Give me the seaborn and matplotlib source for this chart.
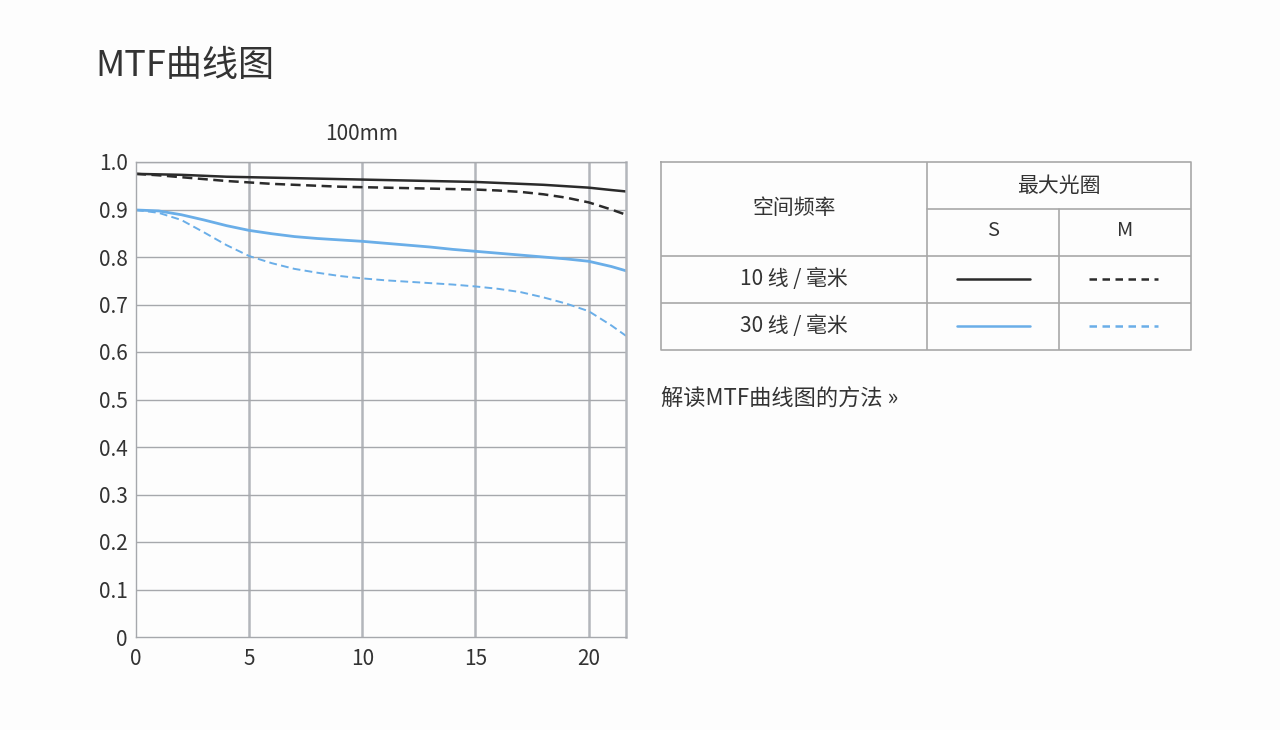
import numpy as np
import pandas as pd
import matplotlib.pyplot as plt
import seaborn as sns

sns.set_theme(style='white')
plt.rcParams['font.family'] = ['Noto Sans CJK SC', 'DejaVu Sans']
plt.rcParams['axes.unicode_minus'] = False

# 数据：距画面中心的距离(mm) 与 MTF 值
dist = [0, 1, 2, 3, 4, 5, 6, 7, 8, 9, 10, 11, 12, 13, 14, 15, 16, 17, 18, 19, 20, 21, 21.65]
s10 = [0.975, 0.974, 0.973, 0.971, 0.969, 0.968, 0.967, 0.966, 0.965, 0.964, 0.963, 0.962, 0.961,
       0.960, 0.959, 0.958, 0.956, 0.954, 0.952, 0.949, 0.946, 0.941, 0.938]
m10 = [0.975, 0.972, 0.968, 0.964, 0.960, 0.957, 0.954, 0.952, 0.950, 0.948, 0.947, 0.946, 0.945,
       0.944, 0.943, 0.942, 0.940, 0.937, 0.932, 0.925, 0.915, 0.900, 0.889]
s30 = [0.899, 0.897, 0.889, 0.878, 0.866, 0.856, 0.849, 0.843, 0.839, 0.836, 0.833, 0.829, 0.825,
       0.821, 0.816, 0.812, 0.808, 0.804, 0.800, 0.796, 0.791, 0.780, 0.771]
m30 = [0.899, 0.893, 0.878, 0.852, 0.825, 0.802, 0.787, 0.775, 0.767, 0.760, 0.755, 0.751, 0.748,
       0.745, 0.742, 0.738, 0.733, 0.726, 0.715, 0.702, 0.686, 0.656, 0.634]

xticks = [0, 5, 10, 15, 20]
yticks = [0, 0.1, 0.2, 0.3, 0.4, 0.5, 0.6, 0.7, 0.8, 0.9, 1.0]
ytick_labels = ['0', '0.1', '0.2', '0.3', '0.4', '0.5', '0.6', '0.7', '0.8', '0.9', '1.0']

row_labels = ['10 线 / 毫米', '30 线 / 毫米']
col_labels = ['S', 'M']

black = '#2b2b2b'
blue = '#6aaee8'
grid_c = '#b3b6bb'
text_c = '#333333'

W, H = 1280, 730
fig = plt.figure(figsize=(12.8, 7.3), dpi=100)
fig.patch.set_facecolor('#fdfdfd')


def px_axes(l, t, r, b):
    return fig.add_axes([l / W, 1 - b / H, (r - l) / W, (b - t) / H])


fig.text(95 / W, 1 - 66 / H, 'MTF曲线图', fontsize=26, fontweight='medium', color=text_c,
         va='center', ha='left')

# MTF 图
ax = px_axes(136, 162, 626, 637)
ax.set_facecolor('#fdfdfd')
df = pd.DataFrame({'x': dist, 's10': s10, 'm10': m10, 's30': s30, 'm30': m30})
sns.lineplot(data=df, x='x', y='s10', ax=ax, color=black, lw=1.8)
sns.lineplot(data=df, x='x', y='m10', ax=ax, color=black, lw=1.8, linestyle=(0, (4, 2.2)))
sns.lineplot(data=df, x='x', y='s30', ax=ax, color=blue, lw=2.0)
sns.lineplot(data=df, x='x', y='m30', ax=ax, color=blue, lw=1.4, linestyle=(0, (4, 2.2)))
ax.set_xlim(0, 21.65)
ax.set_ylim(0, 1.0)
ax.set_xticks(xticks)
ax.set_yticks(yticks)
ax.set_yticklabels(ytick_labels)
ax.set_xlabel('')
ax.set_ylabel('')
for v in xticks[1:]:
    ax.axvline(v, color=grid_c, lw=1.8, zorder=0)
for v in yticks[1:]:
    ax.axhline(v, color='#a6a8ac', lw=1.0, zorder=0)
for side in ['top', 'right', 'left', 'bottom']:
    ax.spines[side].set_visible(True)
    ax.spines[side].set_color('#a6a8ac')
    ax.spines[side].set_linewidth(1.0)
ax.spines['right'].set_color(grid_c)
ax.spines['right'].set_linewidth(1.8)
ax.tick_params(axis='both', labelsize=15, colors=text_c, length=0, pad=6)
ax.tick_params(axis='x', pad=8)
fig.text(362 / W, 1 - 134 / H, '100mm', fontsize=15, color=text_c, ha='center', va='center')

# 右侧图例表格
tb = px_axes(661, 162, 1191, 350)
tb.set_xlim(661, 1191)
tb.set_ylim(350, 162)
tb.axis('off')
lc = '#a8a8a8'
tb.plot([661, 1191, 1191, 661, 661], [162, 162, 350, 350, 162], color=lc, lw=1.2, clip_on=False)
tb.plot([927, 927], [162, 350], color=lc, lw=1.2)
tb.plot([1059, 1059], [209, 350], color=lc, lw=1.2)
tb.plot([927, 1191], [209, 209], color=lc, lw=1.2)
tb.plot([661, 1191], [256, 256], color=lc, lw=1.2)
tb.plot([661, 1191], [303, 303], color=lc, lw=1.2)
tb.text(794, 208, '空间频率', fontsize=15, color=text_c, ha='center', va='center')
tb.text(1059, 186, '最大光圈', fontsize=15, fontweight='medium', color=text_c, ha='center', va='center')
tb.text(993, 231, col_labels[0], fontsize=14.5, color=text_c, ha='center', va='center')
tb.text(1125, 231, col_labels[1], fontsize=14.5, color=text_c, ha='center', va='center')
row_y = [279, 326]
row_colors = [black, blue]
for lab, yy, c in zip(row_labels, row_y, row_colors):
    tb.text(794, yy, lab, fontsize=15, color=text_c, ha='center', va='center')
    tb.plot([957, 1030], [yy, yy], color=c, lw=1.8)
    tb.plot([1089, 1158], [yy, yy], color=c, lw=1.8, linestyle=(0, (3, 2.2)))

fig.text(661 / W, 1 - 398 / H, '解读MTF曲线图的方法 »', fontsize=16, color=text_c, ha='left', va='center')

fig.savefig('out.png', dpi=100, facecolor=fig.get_facecolor())
